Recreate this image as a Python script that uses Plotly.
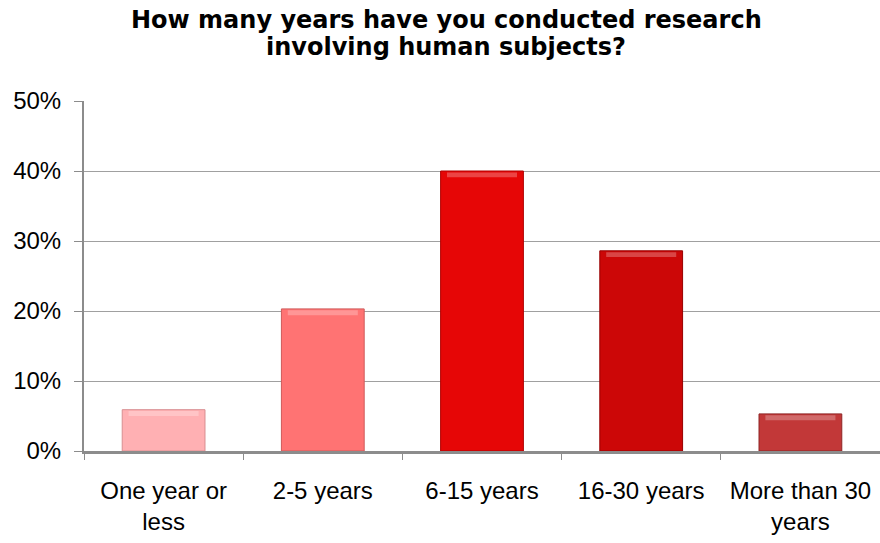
import plotly.graph_objects as go

# Survey responses: years of human-subjects research
categories = ["One year or<br>less", "2-5 years", "6-15 years", "16-30 years", "More than 30<br>years"]
shares = [0.059, 0.203, 0.400, 0.286, 0.053]
bar_colors = ["#FFB0B3", "#FF7373", "#E60606", "#CC0707", "#C23838"]
edge_colors = ["#D88E91", "#CF5A5A", "#B00000", "#980000", "#8E2525"]
y_ticks = [0, 0.1, 0.2, 0.3, 0.4, 0.5]
y_tick_labels = ["0%", "10%", "20%", "30%", "40%", "50%"]
title_lines = ["How many years have you conducted research", "involving human subjects?"]

font_family = "Liberation Sans, Arial, sans-serif"
title_family = "DejaVu Sans, Liberation Sans, Arial, sans-serif"

fig = go.Figure()
fig.add_trace(go.Bar(
    x=categories,
    y=shares,
    width=0.52,
    marker=dict(color=bar_colors, line=dict(color=edge_colors, width=1)),
    hoverinfo="x+y",
))
# soft highlight along the top edge of each bar
fig.add_trace(go.Bar(
    x=categories,
    y=[0.007] * len(shares),
    base=[v - 0.009 for v in shares],
    width=0.44,
    marker=dict(color="rgba(255,255,255,0.25)", line=dict(width=0)),
    hoverinfo="skip",
))

# two-line title with tight line spacing
for i, line in enumerate(title_lines):
    fig.add_annotation(
        text=line,
        xref="paper", yref="paper",
        x=0.455, y=1.0,
        xanchor="center", yanchor="middle",
        yshift=(101 - 20) - 27 * i,
        showarrow=False,
        font=dict(family=title_family, size=24, color="black", weight="bold"),
    )

fig.update_layout(
    width=880,
    height=543,
    barmode="overlay",
    showlegend=False,
    plot_bgcolor="white",
    paper_bgcolor="white",
    margin=dict(l=84, r=0, t=101, b=92),
    font=dict(family=font_family, size=24, color="black"),
)
fig.update_yaxes(
    range=[0, 0.5],
    tickvals=y_ticks,
    ticktext=y_tick_labels,
    showgrid=True,
    gridcolor="#A0A0A0",
    gridwidth=1,
    showline=True,
    linecolor="#8C8C8C",
    linewidth=2,
    ticks="outside",
    ticklen=8,
    tickcolor="#8C8C8C",
    tickwidth=1,
    ticklabelstandoff=8,
    zeroline=False,
    tickfont=dict(size=24),
)
fig.update_xaxes(
    range=[-0.5, 4.5],
    showline=True,
    linecolor="#8C8C8C",
    linewidth=3,
    ticks="outside",
    tickson="boundaries",
    ticklen=6,
    tickcolor="#8C8C8C",
    tickwidth=1,
    ticklabelstandoff=16,
    showgrid=False,
    tickfont=dict(size=24),
)

fig.write_html("out.html")
